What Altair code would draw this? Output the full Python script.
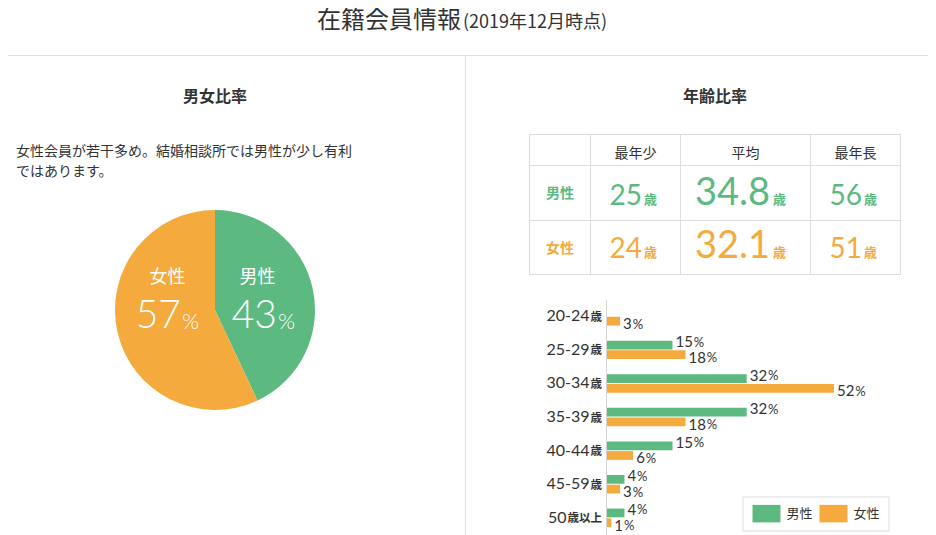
import altair as alt
import pandas as pd

# ---------------- data ----------------
TITLE = "在籍会員情報"
SUBTITLE = "(2019年12月時点)"
LEFT_HEAD = "男女比率"
RIGHT_HEAD = "年齢比率"
NOTE_LINES = ["女性会員が若干多め。結婚相談所では男性が少し有利", "ではあります。"]

SEXES = ["男性", "女性"]
SHARE = [43, 57]

STATS = ["最年少", "平均", "最年長"]
MALE_AGES = ["25", "34.8", "56"]
FEMALE_AGES = ["24", "32.1", "51"]
AGE_UNIT = "歳"

GROUPS = ["20-24歳", "25-29歳", "30-34歳", "35-39歳", "40-44歳", "45-59歳", "50歳以上"]
MALE_PCT = [None, 15, 32, 32, 15, 4, 4]
FEMALE_PCT = [3, 18, 52, 18, 6, 3, 1]

# ---------------- style ----------------
G = "#5cb980"
O = "#f4aa3c"
TXT = "#333333"
LINE = "#e0e0e0"
JP = "Noto Sans CJK JP"
NUM = "Lato"
W, H = 920, 527

ONE = pd.DataFrame({"k": [0]})


def T(text, x, y, size, color=TXT, align="center", baseline="middle", font=JP, weight="normal"):
    return alt.Chart(ONE).mark_text(
        text=text, align=align, baseline=baseline, fontSize=size,
        font=font, fontWeight=weight, color=color
    ).encode(x=alt.value(x), y=alt.value(y))


def hline(x1, x2, y, color=LINE):
    return alt.Chart(ONE).mark_rule(color=color, strokeWidth=1).encode(
        x=alt.value(x1), x2=alt.value(x2), y=alt.value(y))


def vline(x, y1, y2, color=LINE):
    return alt.Chart(ONE).mark_rule(color=color, strokeWidth=1).encode(
        x=alt.value(x), y=alt.value(y1), y2=alt.value(y2))


layers = []

# page title & dividers
layers.append(T(TITLE, 453, 20, 24, align="right", baseline="alphabetic"))
layers.append(T(SUBTITLE, 455, 20, 18, align="left", baseline="alphabetic"))
layers.append(hline(0, W, 47.5))
layers.append(vline(457.5, 47.5, H))

# section heads
layers.append(T(LEFT_HEAD, 207, 89, 16, weight="bold"))
layers.append(T(RIGHT_HEAD, 707, 89, 16, weight="bold"))

# note
layers.append(T(NOTE_LINES[0], 8, 144, 14, align="left"))
layers.append(T(NOTE_LINES[1], 8, 164, 14, align="left"))

# ---------------- pie ----------------
pie_df = pd.DataFrame({"sex": SEXES, "share": SHARE, "idx": [0, 1]})
pie = alt.Chart(pie_df).mark_arc(outerRadius=100).encode(
    theta=alt.Theta("share:Q", stack=True),
    order=alt.Order("idx:Q"),
    color=alt.Color("sex:N", scale=alt.Scale(domain=SEXES, range=[G, O]), legend=None),
    x=alt.value(207), y=alt.value(302),
)
layers.append(pie)
# pie labels
layers.append(T(SEXES[0], 249.5, 270, 18, color="white"))
layers.append(T(SEXES[1], 159.5, 270, 18, color="white"))
layers.append(T(str(SHARE[0]), 269, 320, 39, color="white", align="right", baseline="alphabetic", font=NUM, weight=300))
layers.append(T("%", 270, 321, 22, color="white", align="left", baseline="alphabetic", font=NUM, weight=300))
layers.append(T(str(SHARE[1]), 173, 320, 39, color="white", align="right", baseline="alphabetic", font=NUM, weight=300))
layers.append(T("%", 174, 321, 22, color="white", align="left", baseline="alphabetic", font=NUM, weight=300))

# ---------------- table ----------------
TX = [521.5, 582.5, 672.5, 802.5, 892.5]
TY = [126.5, 157.5, 212.5, 266.5]
tbl = alt.Chart(ONE).mark_rect(fill="white", stroke="#dddddd", strokeWidth=1).encode(
    x=alt.value(TX[0]), x2=alt.value(TX[-1]), y=alt.value(TY[0]), y2=alt.value(TY[-1]))
layers.append(tbl)
for xx in TX[1:-1]:
    layers.append(vline(xx, TY[0], TY[-1], color="#dddddd"))
for yy in TY[1:-1]:
    layers.append(hline(TX[0], TX[-1], yy, color="#dddddd"))

col_center = [627.5, 737.5, 847.5]
for j, s in enumerate(STATS):
    layers.append(T(s, col_center[j], 146, 14))
row_label_y = [186, 240.5]
row_base = [197, 250]
row_colors = [G, O]
num_right = [634, 762, 854]
unit_left = [636, 765, 856]
for i, (sex, ages) in enumerate(zip(SEXES, [MALE_AGES, FEMALE_AGES])):
    layers.append(T(sex, 552, row_label_y[i], 14, color=row_colors[i], weight="bold"))
    for j, a in enumerate(ages):
        size = 38 if j == 1 else 28
        layers.append(T(a, num_right[j], row_base[i], size, color=row_colors[i],
                        align="right", baseline="alphabetic", font=NUM))
        layers.append(T(AGE_UNIT, unit_left[j], row_base[i] - 1.5, 13, color=row_colors[i],
                        align="left", baseline="alphabetic", weight="bold"))

# ---------------- bar chart ----------------
X0, X1, XMAX = 599, 826, 52
PX = (X1 - X0) / XMAX
rows = []
for g, m, f in zip(GROUPS, MALE_PCT, FEMALE_PCT):
    for sex, v in ((SEXES[0], m), (SEXES[1], f)):
        if v is None:
            continue
        rows.append({"group": g, "sex": sex, "value": v, "label": str(v),
                     "pct_x": v + (3 + len(str(v)) * 8.6 + 1) / PX})
bar_df = pd.DataFrame(rows)

axis_rows = []
for g in GROUPS:
    main = g.split("歳")[0]
    suffix = g[len(main):]
    axis_rows.append({"group": g, "main": main, "suffix": suffix,
                      "main_x": -(5 + 11.5 * len(suffix) + 1) / PX,
                      "suffix_x": -5 / PX})
axis_df = pd.DataFrame(axis_rows)

xscale = alt.Scale(domain=[0, XMAX], range=[X0, X1], nice=False, zero=True)
yscale = alt.Scale(domain=GROUPS, range=[291.5, 526.6], paddingInner=0.45, paddingOuter=0.225)
yoff = alt.YOffset("sex:N", scale=alt.Scale(domain=SEXES, paddingInner=0.1, paddingOuter=0))

bars = alt.Chart(bar_df).mark_bar().encode(
    x=alt.X("value:Q", scale=xscale, axis=None),
    y=alt.Y("group:N", scale=yscale, axis=None),
    yOffset=yoff,
    color=alt.Color("sex:N", scale=alt.Scale(domain=SEXES, range=[G, O]),
                    legend=alt.Legend(
                        orient="none", legendX=734.5, legendY=488.5, direction="horizontal",
                        title=None, symbolType="M-1.6,-1H1.6V1H-1.6Z", symbolSize=306,
                        symbolStrokeWidth=0, symbolOffset=7, labelOffset=11, columnPadding=4,
                        labelFont=JP, labelFontSize=13, labelColor=TXT, padding=8,
                        strokeColor="#dddddd", fillColor="white")),
)

label_layers = []
for sex, shift in ((SEXES[0], -3), (SEXES[1], 3)):
    lab = alt.Chart(bar_df).transform_filter(alt.datum.sex == sex).mark_text(
        align="left", baseline="middle", dx=3, dy=shift, fontSize=15, font=NUM, color=TXT
    ).encode(
        x=alt.X("value:Q", scale=xscale, axis=None),
        y=alt.Y("group:N", scale=yscale, axis=None),
        yOffset=yoff,
        text="label:N",
    )
    pct = alt.Chart(bar_df).transform_filter(alt.datum.sex == sex).mark_text(
        align="left", baseline="alphabetic", dy=4.5 + shift, fontSize=13, font=NUM, color=TXT
    ).encode(
        x=alt.X("pct_x:Q", scale=xscale, axis=None),
        y=alt.Y("group:N", scale=yscale, axis=None),
        yOffset=yoff,
        text=alt.value("%"),
    )
    label_layers += [lab, pct]

ax_main = alt.Chart(axis_df).mark_text(align="right", baseline="middle", fontSize=16,
                                       font=NUM, color=TXT).encode(
    x=alt.X("main_x:Q", scale=xscale, axis=None),
    y=alt.Y("group:N", scale=yscale, axis=None),
    text="main:N",
)
ax_suf = alt.Chart(axis_df).mark_text(align="right", baseline="alphabetic", dy=4.5, fontSize=11.5,
                                      font=JP, fontWeight="bold", color=TXT).encode(
    x=alt.X("suffix_x:Q", scale=xscale, axis=None),
    y=alt.Y("group:N", scale=yscale, axis=None),
    text="suffix:N",
)
bar_group = alt.layer(bars, *label_layers, ax_main, ax_suf)

layers.append(vline(598.5, 292, H, color="#d5d5d5"))
layers.append(bar_group)

chart = alt.layer(*layers).resolve_scale(
    x="independent", y="independent", color="independent"
).properties(
    width=W, height=H, autosize=alt.AutoSizeParams(type="none"), padding=0
).configure_view(stroke=None)

chart.save("out.html", embed_options={"renderer": "svg", "actions": False})
